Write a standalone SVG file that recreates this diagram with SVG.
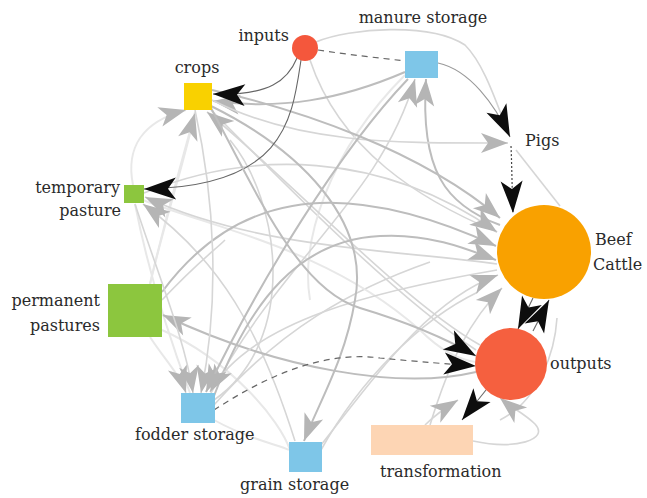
<svg xmlns="http://www.w3.org/2000/svg" width="647" height="498" viewBox="0 0 647 498">
<style>
.e1{fill:none;stroke:#bdbdbd;stroke-width:2}
.e2{fill:none;stroke:#d6d6d6;stroke-width:1.6}
.e3{fill:none;stroke:#e8e8e8;stroke-width:2}
.k{fill:none;stroke:#666;stroke-width:1.1}
.kg{fill:none;stroke:#999;stroke-width:1.1}
.kd{fill:none;stroke:#666;stroke-width:1.2;stroke-dasharray:6 5}
.kdot{fill:none;stroke:#444;stroke-width:1.2;stroke-dasharray:2 2}
.g{marker-end:url(#mg)}
.b{marker-end:url(#mk)}
text{font-family:"DejaVu Serif","Liberation Serif",serif;font-size:16px;fill:#2a2a2a}
</style>
<defs>
<marker id="mg" markerUnits="userSpaceOnUse" markerWidth="30" markerHeight="22" refX="27" refY="10" orient="auto" overflow="visible">
<path d="M0,0 L27,10 L0,20 L7,10 Z" fill="#b5b5b5"/>
</marker>
<marker id="mk" markerUnits="userSpaceOnUse" markerWidth="34" markerHeight="24" refX="32" refY="11" orient="auto" overflow="visible">
<path d="M0,0 L32,11 L0,22 L8,11 Z" fill="#0d0d0d"/>
</marker>
</defs>
<g id="connectors">
<path class="e3" d="M150,284 C165,220 185,160 195,112"/>
<path class="e3" d="M135,204 C150,280 170,340 190,393"/>
<path class="e3" d="M162,330 C230,360 280,420 290,450"/>
<path class="e3" d="M214,420 C250,440 280,445 289,450"/>
<path class="e2" d="M211,110 C300,200 400,300 476,350"/>
<path class="e2" d="M214,405 C280,330 350,290 430,262"/>
<path class="e2" d="M321,450 C360,380 420,320 478,292"/>
<path class="e2" d="M516,150 L560,206"/>
<path class="e2" d="M500,420 C540,400 555,350 557,318"/>
<path class="e3" d="M143,200 C220,230 330,250 420,330 C440,350 460,360 476,362"/>
<path class="e2" d="M162,300 C200,260 215,250 225,240"/>
<path class="e2" d="M310,60 C340,150 420,200 497,232"/>
<path class="e3" d="M405,75 C330,150 300,240 310,300"/>
<path class="e2" d="M214,400 C300,340 280,200 230,140"/>
<path class="e3 g" d="M133,185 C126,150 140,122 186,110"/>
<path class="e3 g" d="M150,284 C165,220 182,160 195,113"/>
<path class="e2 g" d="M480,345 C400,300 280,170 207,112"/>
<path class="e1 g" d="M405,72 C340,100 280,110 213,101"/>
<path class="e2 g" d="M497,264 C400,250 260,250 145,197"/>
<path class="e2 g" d="M295,441 C260,330 220,260 143,204"/>
<path class="e1 g" d="M500,225 C445,205 420,170 426,79"/>
<path class="e2 g" d="M210,395 C280,260 380,200 415,79"/>
<path class="e2 g" d="M212,100 C300,145 400,143 508,143"/>
<path class="e1 g" d="M212,90 C300,110 420,150 500,218"/>
<path class="e2 g" d="M144,193 C250,150 380,150 497,232"/>
<path class="e1 g" d="M162,292 C230,200 330,170 496,246"/>
<path class="e1 g" d="M214,396 C250,300 300,240 380,236 C430,233 470,250 496,260"/>
<path class="e2 g" d="M321,445 C380,370 430,300 498,275"/>
<path class="e2 g" d="M430,425 C450,360 470,320 502,288"/>
<path class="e1 g" d="M476,372 C400,390 280,370 163,315"/>
<path class="e3 g" d="M150,337 C165,360 180,375 186,393"/>
<path class="e2 g" d="M135,204 C160,280 185,340 193,393"/>
<path class="e2 g" d="M195,110 C215,200 220,300 201,393"/>
<path class="e2 g" d="M497,270 C380,290 250,320 210,392"/>
<path class="e1 g" d="M408,79 C340,150 260,280 206,392"/>
<path class="e1 g" d="M211,106 C300,150 370,220 355,300 C345,360 320,400 304,441"/>
<path class="e2 g" d="M425,425 C435,415 445,408 458,400"/>
<path class="e2 g" d="M473,441 C515,450 550,440 535,424 C525,414 512,408 500,398"/>
<path class="k b" d="M297,58 C288,80 270,96 213,94"/>
<path class="k b" d="M301,60 C292,120 285,187 144,189"/>
<path class="kd" d="M318,50 C350,55 380,58 405,61"/>
<path class="e2" d="M316,42 C350,28 430,22 465,45 C485,65 497,105 510,137"/>
<path class="kg b" d="M438,63 C470,70 495,105 510,137"/>
<path class="kdot b" d="M511,146 C512,170 512,190 513,213"/>
<path class="k b" d="M533,298 L518,329"/>
<path class="k b" d="M533,331 L549,300"/>
<path class="e1 b" d="M211,108 C260,200 300,290 360,308 C400,320 440,335 476,356"/>
<path class="kd b" d="M214,410 C260,380 320,350 380,358 C420,362 450,364 476,366"/>
<path class="k b" d="M486,390 L462,420"/>
</g>
<g id="node-inputs"><circle cx="305" cy="48" r="13" fill="#f4573c"/><text x="289" y="41" text-anchor="end">inputs</text></g>
<g id="node-manure-storage"><rect x="405" y="51" width="33" height="27" fill="#7ec6e8"/><text x="423" y="23" text-anchor="middle">manure storage</text></g>
<g id="node-crops"><rect x="184" y="83" width="28" height="27" fill="#f9d100"/><text x="197" y="73" text-anchor="middle">crops</text></g>
<g id="node-pigs"><text x="525" y="146">Pigs</text></g>
<g id="node-temporary-pasture"><rect x="124" y="185" width="20" height="18" fill="#8cc63e"/><text x="120" y="193" text-anchor="end">temporary</text><text x="121" y="216" text-anchor="end">pasture</text></g>
<g id="node-beef-cattle"><circle cx="544" cy="252" r="47" fill="#f9a100"/><text x="595" y="245">Beef</text><text x="593" y="270">Cattle</text></g>
<g id="node-permanent-pastures"><rect x="108" y="284" width="54" height="53" fill="#8cc63e"/><text x="100" y="306" text-anchor="end">permanent</text><text x="100" y="331" text-anchor="end">pastures</text></g>
<g id="node-outputs"><circle cx="511" cy="364" r="36" fill="#f5603f"/><text x="550" y="369">outputs</text></g>
<g id="node-fodder-storage"><rect x="181" y="393" width="34" height="30" fill="#7ec6e8"/><text x="135" y="440">fodder storage</text></g>
<g id="node-grain-storage"><rect x="289" y="442" width="33" height="30" fill="#7ec6e8"/><text x="240" y="490">grain storage</text></g>
<g id="node-transformation"><rect x="371" y="425" width="102" height="30" fill="#fdd5b4"/><text x="380" y="477">transformation</text></g>
</svg>
